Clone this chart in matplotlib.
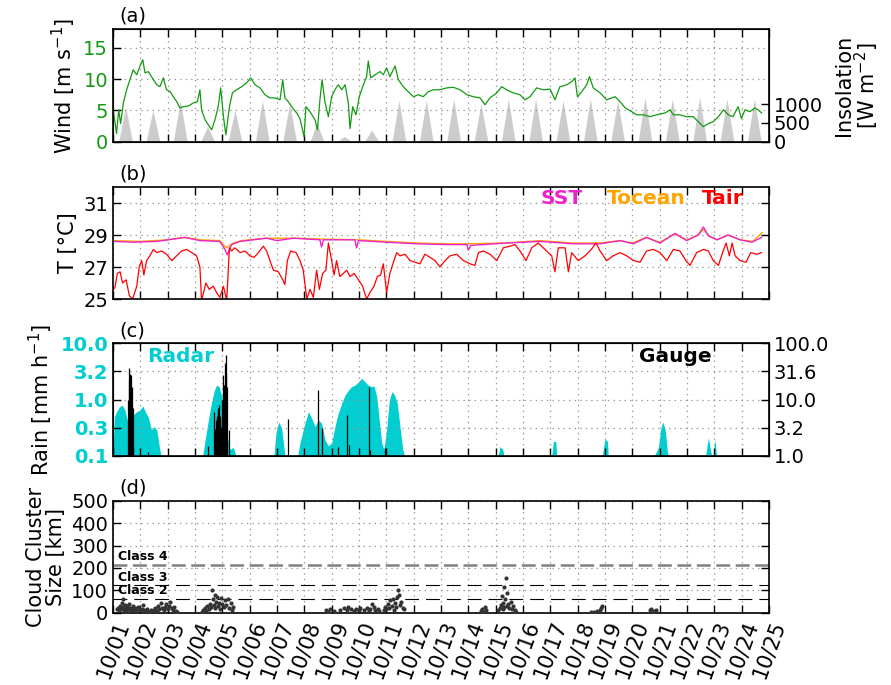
import matplotlib
matplotlib.use('Agg')
import matplotlib.pyplot as plt
import numpy as np
from matplotlib.ticker import FixedLocator, NullLocator

plt.rcParams['font.family'] = 'DejaVu Sans'
plt.rcParams['lines.scale_dashes'] = False

# ---- data (time in days since 10/01 00:00) ----
day_labels = ['10/%02d' % d for d in range(1, 26)]

wind_t = [0.01, 0.13, 0.21, 0.28, 0.38, 0.5, 0.62, 0.74, 0.87, 0.99, 1.09, 1.17, 1.29, 1.48, 1.6, 1.72,
          1.84, 1.96, 2.09, 2.21, 2.33, 2.45, 2.57, 2.76, 2.94, 3.09, 3.18, 3.24, 3.37, 3.49, 3.61, 3.73,
          3.85, 3.94, 4.04, 4.13, 4.26, 4.37, 4.52, 4.71, 4.89, 5.04, 5.2, 5.38, 5.56, 5.74, 5.93, 6.11,
          6.21, 6.29, 6.41, 6.57, 6.72, 6.84, 6.99, 7.06, 7.21, 7.39, 7.48, 7.57, 7.65, 7.76, 7.88, 8.0,
          8.12, 8.24, 8.37, 8.49, 8.61, 8.67, 8.77, 8.89, 9.01, 9.16, 9.28, 9.34, 9.43, 9.59, 9.77, 9.89,
          10.01, 10.13, 10.32, 10.44, 10.62, 10.8, 10.99, 11.17, 11.35, 11.54, 11.72, 11.96, 12.21, 12.45,
          12.7, 12.95, 13.18, 13.43, 13.61, 13.79, 14.04, 14.22, 14.4, 14.65, 14.89, 15.07, 15.26, 15.5,
          15.74, 15.99, 16.17, 16.35, 16.6, 16.78, 16.9, 16.99, 17.15, 17.33, 17.43, 17.57, 17.82, 18.06,
          18.24, 18.37, 18.55, 18.74, 18.98, 19.16, 19.4, 19.65, 19.89, 20.2, 20.38, 20.5, 20.74, 20.99,
          21.23, 21.48, 21.6, 21.78, 21.96, 22.15, 22.33, 22.51, 22.68, 22.87, 22.99, 23.12, 23.3, 23.48,
          23.6, 23.73]
wind_v = [5.1, 1.3, 5.1, 2.9, 6.2, 8.3, 9.9, 11.5, 10.7, 12.1, 13.1, 11.0, 11.2, 9.9, 9.1, 8.8,
          10.2, 8.3, 8.0, 7.2, 6.4, 5.4, 5.6, 5.7, 6.2, 6.4, 8.3, 5.1, 3.5, 2.7, 1.9, 3.5,
          5.6, 8.6, 4.0, 1.1, 5.6, 7.8, 8.3, 8.8, 9.4, 10.2, 9.1, 8.6, 7.5, 7.0, 7.0, 6.7,
          9.9, 7.0, 6.4, 5.4, 4.6, 3.7, 0.8, 5.6, 4.8, 3.5, 1.9, 6.7, 9.9, 6.2, 4.0, 7.2,
          8.3, 9.1, 8.3, 9.1, 6.2, 2.1, 5.6, 4.3, 7.2, 9.1, 10.4, 12.9, 10.2, 10.7, 11.2, 10.7,
          11.8, 10.4, 12.1, 9.9, 8.8, 8.0, 7.2, 7.5, 7.2, 8.0, 8.3, 8.3, 8.6, 8.7,
          8.3, 7.5, 7.2, 7.0, 5.9, 7.0, 7.8, 8.8, 8.3, 7.8, 7.5, 6.7, 7.2, 8.6,
          8.3, 8.4, 6.7, 8.8, 9.1, 9.6, 10.2, 7.2, 8.0, 9.1, 10.4, 8.6, 7.8, 6.7,
          7.0, 7.2, 6.4, 5.4, 4.8, 4.3, 4.3, 4.0, 4.3, 4.6, 5.1, 4.3, 4.3, 4.0,
          4.0, 2.9, 2.4, 2.9, 3.2, 4.0, 5.1, 4.3, 4.0, 5.6, 3.7, 5.1, 4.8, 5.4,
          5.1, 4.6]

insol_peak = [913, 826, 1087, 391, 826, 1087, 1000, 478, 130, 300, 1087, 1087,
              1130, 1000, 1130, 1130, 1087, 1130, 1087, 1170, 1130, 1170, 1130, 1130]

tair_t = [0.01, 0.07, 0.16, 0.26, 0.35, 0.48, 0.6, 0.72, 0.87, 0.96, 1.05, 1.13, 1.23, 1.35, 1.48, 1.6,
          1.78, 1.96, 2.15, 2.33, 2.51, 2.7, 2.88, 3.06, 3.18, 3.24, 3.4, 3.52, 3.67, 3.79, 3.91, 4.04,
          4.16, 4.26, 4.34, 4.46, 4.65, 4.83, 5.01, 5.16, 5.32, 5.5, 5.62, 5.74, 5.87, 6.05, 6.21, 6.29,
          6.38, 6.5, 6.7, 6.84, 6.96, 7.09, 7.21, 7.33, 7.45, 7.55, 7.67, 7.79, 7.88, 8.0, 8.09, 8.18,
          8.3, 8.43, 8.55, 8.67, 8.82, 8.98, 9.13, 9.28, 9.4, 9.55, 9.67, 9.79, 9.89, 10.01, 10.13, 10.26,
          10.38, 10.5, 10.68, 10.87, 11.05, 11.23, 11.41, 11.6, 11.78, 11.96, 12.15, 12.33, 12.57, 12.82,
          13.06, 13.24, 13.37, 13.55, 13.79, 14.04, 14.28, 14.52, 14.71, 14.89, 15.11, 15.32, 15.56, 15.8,
          16.05, 16.17, 16.29, 16.54, 16.66, 16.78, 17.02, 17.27, 17.5, 17.67, 17.82, 18.06, 18.3, 18.55,
          18.79, 19.04, 19.28, 19.52, 19.77, 20.01, 20.26, 20.5, 20.74, 20.96, 21.11, 21.35, 21.6, 21.78,
          21.96, 22.15, 22.3, 22.43, 22.55, 22.65, 22.76, 22.94, 23.16, 23.33, 23.55, 23.73]
tair_v = [25.6, 25.7, 26.6, 26.7, 26.0, 26.2, 25.2, 25.0, 25.8, 27.0, 27.4, 26.5, 27.4, 27.7, 28.1, 27.9,
          28.0, 27.8, 27.4, 27.7, 28.0, 28.1, 27.9, 27.7, 27.0, 24.9, 26.0, 25.6, 25.8, 25.4, 25.1, 25.8,
          24.9, 28.2, 28.0, 28.2, 27.9, 28.0, 27.7, 27.6, 27.9, 28.3, 28.0, 27.4, 26.8, 26.7, 26.2, 25.9,
          27.4, 28.0, 27.9, 27.4, 26.8, 25.0, 25.6, 25.1, 26.8, 25.6, 26.6, 26.8, 28.5, 27.4, 26.5, 27.4,
          26.4, 26.6, 26.8, 26.4, 26.6, 26.2, 25.8, 25.0, 25.4, 25.8, 26.4, 26.5, 27.2, 25.4, 26.6, 27.3,
          27.9, 27.7, 27.8, 27.4, 27.3, 27.2, 27.8, 27.6, 27.4, 27.0, 27.4, 27.7, 27.8, 27.4,
          27.2, 27.1, 27.9, 28.0, 27.8, 27.4, 28.2, 28.3, 28.4, 28.0, 27.4, 28.2, 28.5, 28.1,
          27.7, 26.7, 28.2, 28.2, 26.7, 27.9, 27.4, 27.7, 28.1, 28.5, 28.0, 27.4, 27.7, 27.9,
          27.7, 27.4, 27.3, 28.0, 28.1, 27.9, 27.4, 28.1, 28.0, 27.4, 27.1, 27.9, 28.1, 28.0,
          27.4, 27.1, 27.9, 28.5, 27.7, 28.5, 27.7, 27.4, 27.3, 27.9, 27.8, 27.9]

sst_t = [0.01, 0.74, 1.6, 2.63, 3.18, 3.91, 4.1, 4.18, 4.34, 4.65, 5.62, 6.0, 6.6, 7.57, 7.63, 7.7,
         8.85, 8.91, 8.98, 10.01, 11.11, 12.21, 12.95, 13.0, 13.09, 14.4, 15.62, 16.84, 17.82, 18.55,
         19.04, 19.52, 20.01, 20.56, 20.99, 21.41, 21.6, 21.78, 22.09, 22.51, 22.94, 23.37, 23.61, 23.73]
sst_v = [28.6, 28.55, 28.6, 28.85, 28.65, 28.6, 28.1, 27.75, 28.4, 28.6, 28.8, 28.65, 28.8, 28.7, 28.25, 28.7,
         28.7, 28.2, 28.65, 28.55, 28.45, 28.4, 28.4, 28.05, 28.35, 28.5, 28.6, 28.45, 28.45, 28.65,
         28.45, 28.85, 28.5, 29.1, 28.65, 29.0, 29.5, 28.95, 28.7, 29.0, 28.7, 28.55, 28.75, 28.85]

tocean_t = [0.0, 1.0, 2.0, 2.6, 3.2, 3.9, 4.15, 4.4, 4.7, 5.6, 6.6, 7.6, 9.0, 10.0, 11.1, 12.2, 13.0,
            14.4, 15.6, 16.8, 17.8, 18.55, 19.0, 19.5, 20.0, 20.55, 21.0, 21.4, 21.6, 21.8, 22.1, 22.5,
            22.95, 23.4, 23.6, 23.75]
tocean_v = [28.65, 28.6, 28.7, 28.85, 28.7, 28.65, 28.2, 28.5, 28.65, 28.8, 28.8, 28.75, 28.7, 28.6, 28.5,
            28.45, 28.45, 28.5, 28.65, 28.5, 28.5, 28.65, 28.5, 28.85, 28.55, 29.05, 28.7, 29.0, 29.35,
            28.95, 28.7, 29.0, 28.7, 28.6, 28.9, 29.15]

radar_t = [0.0, 0.05, 0.13, 0.23, 0.33, 0.44, 0.52, 0.62, 0.74, 0.87, 0.99, 1.09, 1.18, 1.29, 1.41, 1.5,
           1.6, 1.7, 1.76,
           3.28, 3.37, 3.49, 3.61, 3.71, 3.79, 3.88, 3.98, 4.07, 4.18, 4.28, 4.4, 4.5,
           5.89, 5.96, 6.06, 6.17, 6.29,
           6.76, 6.84, 6.99, 7.15, 7.27, 7.39, 7.51, 7.63, 7.76, 7.88, 8.0, 8.12, 8.24, 8.37, 8.49, 8.61,
           8.73, 8.85, 8.98, 9.1, 9.22, 9.34, 9.46, 9.55, 9.65, 9.74, 9.83, 9.91, 10.01, 10.11, 10.21,
           10.3, 10.4, 10.5, 10.6, 10.66,
           14.09, 14.16, 14.26, 14.3, 16.05, 16.11, 16.2, 16.23, 17.9, 18.0, 18.09, 18.12,
           19.8, 19.85, 19.95, 20.04, 20.11, 20.2, 20.28, 20.32, 21.68, 21.78, 21.87, 21.9,
           21.96, 22.02, 22.08, 24.0]
radar_v = [0.0, 0.49, 0.61, 0.73, 0.8, 0.65, 0.43, 0.57, 0.53, 0.61, 0.65, 0.77, 0.61, 0.49, 0.29, 0.33,
           0.29, 0.14, 0.0,
           0.0, 0.19, 0.43, 0.91, 1.47, 1.8, 1.7, 1.12, 0.57, 0.22, 0.13, 0.14, 0.0,
           0.0, 0.25, 0.4, 0.31, 0.0,
           0.0, 0.17, 0.33, 0.61, 0.46, 0.33, 0.43, 0.38, 0.19, 0.15, 0.17, 0.33, 0.57, 0.86, 1.2, 1.47,
           1.7, 1.8, 2.07, 2.38, 2.07, 1.8, 1.7, 1.74, 1.12, 0.43, 0.17, 0.13, 0.29, 0.98, 1.39,
           1.2, 0.86, 0.33, 0.13, 0.0,
           0.0, 0.145, 0.13, 0.0, 0.0, 0.18, 0.18, 0.0, 0.0, 0.2, 0.18, 0.0,
           0.0, 0.11, 0.14, 0.3, 0.4, 0.3, 0.12, 0.0, 0.0, 0.21, 0.12, 0.0,
           0.0, 0.2, 0.0, 0.0]

gauge_t = [0.01, 0.54, 0.57, 0.6, 0.62, 0.65, 0.68, 0.72, 0.74, 1.29, 3.49, 3.7, 3.73, 3.77, 3.8, 3.83,
           3.86, 3.88, 3.91, 3.93, 3.96, 3.98, 4.01, 4.03, 4.06, 4.08, 4.11, 4.13, 4.15, 4.18, 4.23,
           6.39, 7.51, 7.66, 8.24, 8.55, 8.63, 9.38, 9.4, 9.95]
gauge_v = [1.45, 9.8, 22.2, 36.0, 29.0, 27.0, 17.0, 7.0, 1.45, 1.18, 1.5, 6.1, 3.0, 4.3, 5.0, 7.0,
           6.0, 8.0, 4.3, 5.0, 3.3, 10.0, 27.0, 12.0, 18.0, 20.0, 44.0, 30.0, 62.0, 17.0, 2.9,
           4.6, 14.8, 3.1, 1.45, 5.3, 1.55, 17.0, 1.26, 1.35]

cc_t = [0.13, 0.18, 0.22, 0.25, 0.28, 0.32, 0.35, 0.38, 0.4, 0.43, 0.46, 0.5, 0.53, 0.56, 0.6, 0.63,
        0.66, 0.7, 0.74, 0.78, 0.82, 0.86, 0.9, 0.95, 1.0, 1.05, 1.1, 1.15, 1.2, 1.25, 1.32, 1.4,
        1.5, 1.55, 1.6, 1.65, 1.7, 1.75, 1.8, 1.85, 1.9, 1.95, 2.0, 2.05, 2.1, 2.15, 2.2, 2.25, 2.3, 2.35,
        3.25, 3.3, 3.35, 3.4, 3.45, 3.5, 3.55, 3.6, 3.62, 3.65, 3.7, 3.72, 3.75, 3.78, 3.8, 3.85, 3.88,
        3.9, 3.95, 4.0, 4.05, 4.1, 4.15, 4.2, 4.25, 4.3, 4.35, 4.4,
        7.8, 7.85, 7.95, 8.1, 8.3, 8.45, 8.55, 8.6, 8.7, 8.8, 8.9, 9.0, 9.05, 9.2, 9.3, 9.35, 9.42,
        9.48, 9.55, 9.6, 9.7, 9.75,
        9.9, 9.95, 10.0, 10.05, 10.1, 10.15, 10.2, 10.25, 10.28, 10.32, 10.35, 10.4, 10.42, 10.45, 10.5,
        10.55, 10.6, 10.65,
        13.45, 13.5, 13.55, 13.6, 13.65,
        14.1, 14.15, 14.2, 14.22, 14.25, 14.28, 14.3, 14.32, 14.35, 14.37, 14.4, 14.42, 14.45, 14.5,
        14.55, 14.6, 14.65, 14.7, 14.75,
        17.5, 17.6, 17.7, 17.8, 17.85, 17.9, 19.65, 19.7, 19.8, 19.85]
cc_size = [15, 22, 10, 30, 18, 45, 25, 60, 12, 35, 20, 8, 28, 15, 40, 22,
           10, 18, 30, 12, 20, 8, 25, 15, 10, 18, 35, 12, 8, 15, 5, 10,
           12, 20, 8, 30, 15, 45, 22, 10, 25, 40, 15, 30, 50, 20, 12, 25, 8, 5,
           5, 12, 20, 8, 30, 15, 40, 25, 100, 60, 35, 80, 20, 50, 70, 30, 45,
           15, 65, 40, 25, 55, 35, 60, 20, 45, 10, 25,
           10, 5, 15, 8, 12, 20, 10, 25, 15, 8, 18, 12, 22, 10, 20, 8, 15,
           40, 25, 10, 15, 8,
           10, 25, 15, 40, 20, 55, 30, 60, 12, 45, 25, 70, 100, 80, 35,
           50, 20, 15,
           8, 15, 5, 25, 10,
           10, 20, 35, 74, 15, 45, 25, 115, 60, 156, 30, 90, 40, 20,
           50, 15, 30, 10, 5,
           3, 5, 8, 12, 20, 30, 10, 15, 8, 12]

class_levels = [62, 122, 213]
class_names = ['Class 2', 'Class 3', 'Class 4']

# ---- figure ----
green = '#139a13'
cyan = 'darkturquoise'
fig = plt.figure(figsize=(8.91, 6.85), dpi=100)
L, W = 0.1268, 0.7363
axa = fig.add_axes([L, 0.7931, W, 0.1645])
axb = fig.add_axes([L, 0.5635, W, 0.1635])
axc = fig.add_axes([L, 0.3347, W, 0.164])
axd = fig.add_axes([L, 0.1055, W, 0.1635])


def setup(ax):
    ax.set_xlim(0, 24)
    ax.xaxis.set_major_locator(FixedLocator(range(25)))
    ax.xaxis.set_minor_locator(NullLocator())
    ax.tick_params(direction='in', length=6, width=1, top=True, labelsize=14)
    ax.grid(True, ls=(0, (1, 3)), color='0.6', lw=0.9)
    for s in ax.spines.values():
        s.set_linewidth(1.2)


for ax in (axa, axb, axc, axd):
    setup(ax)
for ax in (axa, axb, axc):
    ax.set_xticklabels([])

# (a) wind + insolation
axa2 = axa.twinx()
for d, pk in enumerate(insol_peak):
    axa2.fill([d + 0.23, d + 0.48, d + 0.73], [0, pk, 0], color='#cccccc', lw=0)
axa2.set_ylim(0, 3000)
axa2.set_yticks([0, 500, 1000])
axa2.tick_params(direction='in', length=6, width=1, labelsize=14)
axa2.set_ylabel('Insolation\n[W m$^{-2}$]', fontsize=15, linespacing=0.95, labelpad=8)
axa.set_zorder(axa2.get_zorder() + 1)
axa.patch.set_visible(False)
axa.plot(wind_t, wind_v, color=green, lw=0.9)
axa.set_ylim(0, 18)
axa.set_yticks([0, 5, 10, 15])
axa.tick_params(axis='y', labelcolor=green, right=False)
axa.set_ylabel('Wind [m s$^{-1}$]', fontsize=15)
axa.text(0.01, 1.03, '(a)', transform=axa.transAxes, fontsize=14, va='bottom')

# (b) temperatures
axb.plot(tocean_t, tocean_v, color='orange', lw=1.0)
axb.plot(sst_t, sst_v, color='#ee22cc', lw=1.0)
axb.plot(tair_t, tair_v, color='red', lw=0.9)
axb.set_ylim(25, 32)
axb.set_yticks([25, 27, 29, 31])
axb.tick_params(axis='y', right=True)
axb.set_ylabel('T [°C]', fontsize=15)
axb.text(0.01, 1.03, '(b)', transform=axb.transAxes, fontsize=14, va='bottom')
for txt, col, xp in [('SST', '#ee22cc', 0.651), ('Tocean', 'orange', 0.753), ('Tair', 'red', 0.898)]:
    axb.text(xp, 0.90, txt, color=col, fontsize=14.5, fontweight='bold',
             transform=axb.transAxes, va='center')

# (c) rain
axc.set_yscale('log')
axc.fill_between(radar_t, np.clip(radar_v, 0.1, None), 0.1, color=cyan, lw=0)
axc.set_ylim(0.1, 10)
lt = [0.1, 10 ** -0.5, 1, 10 ** 0.5, 10]
axc.yaxis.set_major_locator(FixedLocator(lt))
axc.yaxis.set_minor_locator(NullLocator())
axc.set_yticklabels(['0.1', '0.3', '1.0', '3.2', '10.0'], color=cyan, fontweight='bold')
axc.set_ylabel('Rain [mm h$^{-1}$]', fontsize=15)
axc2 = axc.twinx()
axc2.set_yscale('log')
axc2.vlines(gauge_t, 1, gauge_v, color='black', lw=0.9)
axc2.set_ylim(1, 100)
rt = [1, 10 ** 0.5, 10, 10 ** 1.5, 100]
axc2.yaxis.set_major_locator(FixedLocator(rt))
axc2.yaxis.set_minor_locator(NullLocator())
axc2.set_yticklabels(['1.0', '3.2', '10.0', '31.6', '100.0'])
axc2.tick_params(direction='in', length=6, width=1, labelsize=14)
axc.text(0.052, 0.887, 'Radar', color=cyan, fontsize=14.5, fontweight='bold',
         transform=axc.transAxes, va='center')
axc.text(0.802, 0.887, 'Gauge', color='black', fontsize=14.5, fontweight='bold',
         transform=axc.transAxes, va='center', zorder=5)
axc.text(0.01, 1.03, '(c)', transform=axc.transAxes, fontsize=14, va='bottom')

# (d) cloud cluster size
axd.scatter(cc_t, cc_size, s=9, color='#333333', lw=0, zorder=3)
axd.axhline(class_levels[2], color='0.5', lw=1.8, ls=(0, (10, 4)))
axd.axhline(class_levels[1], color='black', lw=0.8, ls=(0, (10, 5)))
axd.axhline(class_levels[0], color='black', lw=0.8, ls=(0, (10, 5)))
for lev, name in zip(class_levels, class_names):
    axd.text(0.008, lev + 8, name, fontsize=9, fontweight='bold',
             transform=axd.get_yaxis_transform(), va='bottom')
axd.set_ylim(0, 500)
axd.set_yticks(range(0, 501, 100))
axd.tick_params(axis='y', right=True)
axd.set_xticks(range(25))
axd.set_xticklabels(day_labels, rotation=70, fontsize=15)
axd.set_ylabel('Cloud Cluster\nSize [km]', fontsize=15, linespacing=0.95)
axd.text(0.01, 1.03, '(d)', transform=axd.transAxes, fontsize=14, va='bottom')

fig.savefig('out.png', dpi=100)
